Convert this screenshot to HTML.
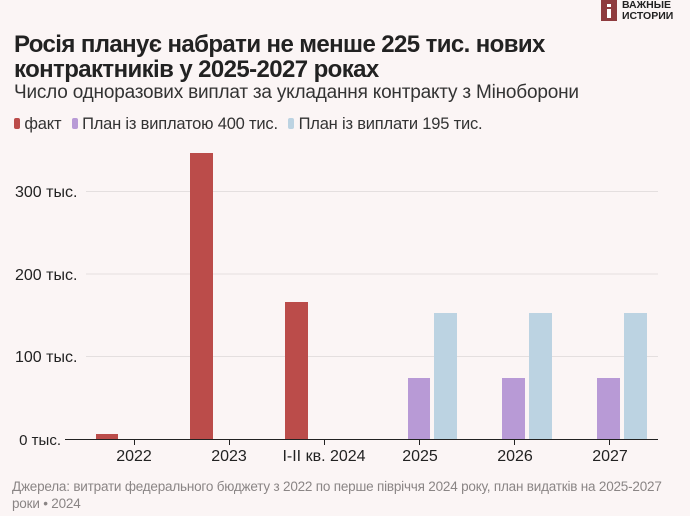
<!DOCTYPE html>
<html><head><meta charset="utf-8"><style>
body{margin:0;width:690px;height:516px;background:#fbf5f5;font-family:"Liberation Sans",sans-serif;overflow:hidden;position:relative}
.a{position:absolute;white-space:nowrap}
</style></head><body>
<div class="a" style="left:601px;top:0;width:16px;height:21px;background:#8e3b3e"></div>
<div class="a" style="left:607px;top:4px;width:4px;height:3px;background:#fff"></div>
<div class="a" style="left:607px;top:9px;width:4px;height:9px;background:#fff"></div>
<div class="a" style="left:622px;top:0px;font-size:10.5px;font-weight:bold;line-height:11px;color:#222">ВАЖНЫЕ<br>ИСТОРИИ</div>
<div class="a" style="left:14px;top:32px;font-size:24px;font-weight:bold;line-height:25px;color:#222;letter-spacing:-0.6px">Росія планує набрати не менше 225 тис. нових<br>контрактників у 2025-2027 роках</div>
<div class="a" style="left:14px;top:82px;font-size:19px;color:#333;letter-spacing:-0.2px">Число одноразових виплат за укладання контракту з Міноборони</div>
<div class="a" style="left:14px;top:115px;font-size:16.5px;color:#333;letter-spacing:-0.2px">
<span style="display:inline-block;width:6px;height:11px;border-radius:2px;background:#bb4c4a"></span> факт
<span style="display:inline-block;width:6px;height:11px;border-radius:2px;background:#b89ad6;margin-left:6px"></span> План із виплатою 400 тис.
<span style="display:inline-block;width:6px;height:11px;border-radius:2px;background:#bcd3e2;margin-left:6px"></span> План із виплати 195 тис.</div>
<svg class="a" style="left:0;top:0" width="690" height="516">
<g stroke="#e4dfdf" stroke-width="1">
<line x1="86" x2="658" y1="191.5" y2="191.5"/><line x1="86" x2="658" y1="274" y2="274"/><line x1="86" x2="658" y1="356.5" y2="356.5"/>
</g>
<g fill="#bb4c4a"><rect x="96" y="434" width="22" height="5"/><rect x="190" y="153" width="23" height="286"/><rect x="285" y="302" width="23" height="137"/></g>
<g fill="#b89ad6"><rect x="408" y="378" width="22" height="61"/><rect x="502" y="378" width="23" height="61"/><rect x="597" y="378" width="23" height="61"/></g>
<g fill="#bcd3e2"><rect x="434" y="313" width="23" height="126"/><rect x="529" y="313" width="23" height="126"/><rect x="624" y="313" width="23" height="126"/></g>
<line x1="65" x2="658" y1="439.5" y2="439.5" stroke="#222" stroke-width="1"/>
<g stroke="#222"><line x1="134.5" x2="134.5" y1="439" y2="445"/><line x1="229.5" x2="229.5" y1="439" y2="445"/><line x1="324.5" x2="324.5" y1="439" y2="445"/><line x1="419.5" x2="419.5" y1="439" y2="445"/><line x1="514.5" x2="514.5" y1="439" y2="445"/><line x1="609.5" x2="609.5" y1="439" y2="445"/></g>
<g font-family="Liberation Sans,sans-serif" font-size="16" fill="#222">
<text x="15" y="197">300 тыс.</text><text x="15" y="280">200 тыс.</text><text x="15" y="362">100 тыс.</text><text x="61" y="445" text-anchor="end" font-size="15">0 тыс.</text>
<g text-anchor="middle"><text x="134" y="461">2022</text><text x="229" y="461">2023</text><text x="324" y="461">I-II кв. 2024</text><text x="420" y="461">2025</text><text x="515" y="461">2026</text><text x="610" y="461">2027</text></g>
</g>
<g font-family="Liberation Sans,sans-serif" font-size="13.5" fill="#8a8585" letter-spacing="-0.2">
<text x="12" y="491">Джерела: витрати федерального бюджету з 2022 по перше півріччя 2024 року, план видатків на 2025-2027</text>
<text x="12" y="508">роки • 2024</text></g>
</svg>
</body></html>
